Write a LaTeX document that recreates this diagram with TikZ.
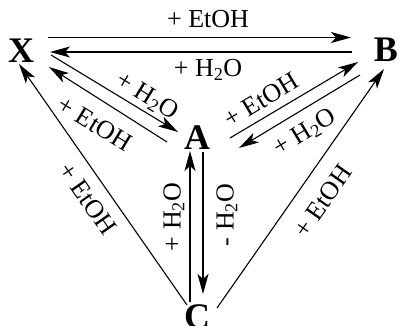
\documentclass[tikz,border=0pt]{standalone}
\usepackage{fontspec}
\setmainfont{Liberation Serif}
\usetikzlibrary{arrows.meta}
\begin{document}
\begin{tikzpicture}[x=1pt,y=-1pt,
  rx/.style={line width=1.1pt,-{Stealth[length=20pt,width=11pt,inset=5pt]}},
  lbl/.style={font=\fontsize{26}{28}\selectfont, inner sep=0pt},
  cmp/.style={font=\fontsize{36}{38}\selectfont\bfseries, inner sep=0pt}]
\useasboundingbox (0,0) rectangle (399,326);
% compounds
\node[cmp] (X) at (21,51) {X};
\node[cmp] (B) at (386,50) {B};
\node[cmp] (A) at (197,138) {A};
\node[cmp] (C) at (197,317) {C};
% connector end points
\coordinate (xb1) at (48,37.5);  \coordinate (xb2) at (351,37.5);
\coordinate (bx1) at (352,52);   \coordinate (bx2) at (50,52);
\coordinate (xa1) at (51,55);    \coordinate (xa2) at (178,132);
\coordinate (ax1) at (167,142);  \coordinate (ax2) at (49,67);
\coordinate (ab1) at (230,138);  \coordinate (ab2) at (358,62);
\coordinate (ba1) at (360,75);   \coordinate (ba2) at (239,148);
\coordinate (ca1) at (190,302);  \coordinate (ca2) at (190,151);
\coordinate (ac1) at (203,152);  \coordinate (ac2) at (203,294);
\coordinate (cb1) at (217,308);  \coordinate (cb2) at (384,69);
\coordinate (cx1) at (187,305);  \coordinate (cx2) at (19,64);
% arrows
\draw[rx] (xb1) -- (xb2);
\draw[rx] (bx1) -- (bx2);
\draw[rx] (xa1) -- (xa2);
\draw[rx] (ax1) -- (ax2);
\draw[rx] (ab1) -- (ab2);
\draw[rx] (ba1) -- (ba2);
\draw[rx] (ca1) -- (ca2);
\draw[rx] (ac1) -- (ac2);
\draw[rx] (cb1) -- (cb2);
\draw[rx] (cx1) -- (cx2);
% labels
\node[lbl, anchor=base] (l1) at (208,28) {+ EtOH};
\node[lbl, anchor=base] (l2) at (208,77) {+ H\textsubscript{2}O};
\node[lbl, rotate=-31.5] (l3) at (147,97) {+ H\textsubscript{2}O};
\node[lbl, rotate=-31.5] (l4) at (95,124) {+ EtOH};
\node[lbl, rotate=31] (l5) at (261,100) {+ EtOH};
\node[lbl, rotate=31] (l6) at (305,133) {+ H\textsubscript{2}O};
\node[lbl, rotate=90] (l7) at (174,217) {+ H\textsubscript{2}O};
\node[lbl, rotate=90] (l8) at (227,215) {- H\textsubscript{2}O};
\node[lbl, rotate=-55] (l9) at (88,199) {+ EtOH};
\node[lbl, rotate=55] (l10) at (323,201) {+ EtOH};
\end{tikzpicture}
\end{document}
